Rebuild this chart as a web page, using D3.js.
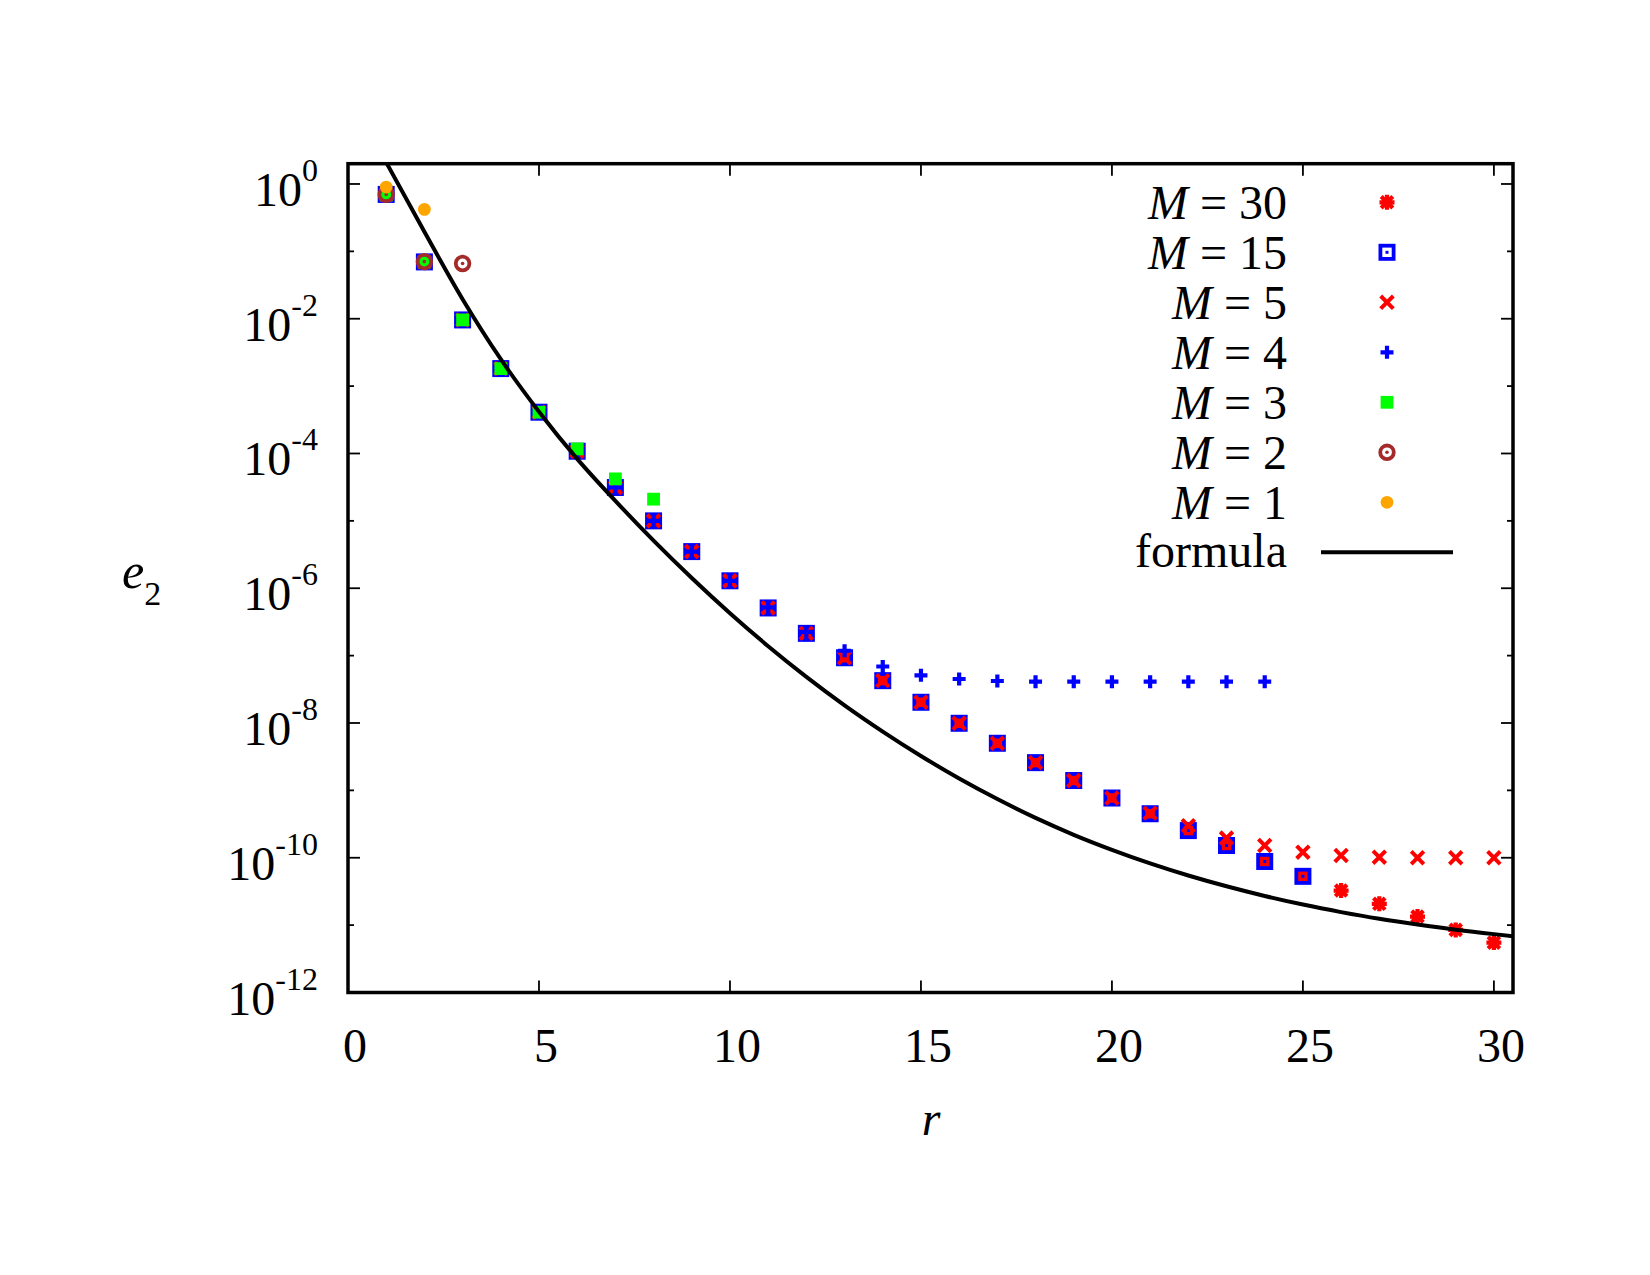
<!DOCTYPE html>
<html>
<head>
<meta charset="utf-8">
<script src="https://cdn.jsdelivr.net/npm/d3@7"></script>
<style>
  html, body { margin: 0; padding: 0; background: #fff; }
  svg text { font-family: "Liberation Serif", "Times New Roman", serif; fill: #000; }
</style>
</head>
<body>
<svg id="chart" width="1650" height="1275"></svg>
<script>
// ---- data ----
const r30 = d3.range(1, 31);
const m30 = [0.70, 0.0697, 0.0096, 1.82e-3, 4.1e-4, 1.08e-4, 3.13e-5, 1.0e-5, 3.5e-6, 1.29e-6,
             5.1e-7, 2.14e-7, 9.3e-8, 4.25e-8, 2.03e-8, 9.9e-9, 5.0e-9, 2.58e-9, 1.40e-9, 7.7e-10,
             4.5e-10, 2.53e-10, 1.52e-10, 8.8e-11, 5.3e-11, 3.26e-11, 2.07e-11, 1.34e-11, 8.5e-12, 5.5e-12];
const r15 = d3.range(1, 26);
const m15 = [0.70, 0.0697, 0.0096, 1.82e-3, 4.1e-4, 1.08e-4, 3.13e-5, 1.0e-5, 3.5e-6, 1.29e-6,
             5.1e-7, 2.14e-7, 9.3e-8, 4.25e-8, 2.03e-8, 9.9e-9, 5.0e-9, 2.58e-9, 1.40e-9, 7.7e-10,
             4.5e-10, 2.53e-10, 1.52e-10, 8.8e-11, 5.3e-11];
const r5 = d3.range(1, 31);
const m5 = [0.70, 0.0697, 0.0096, 1.82e-3, 4.1e-4, 1.08e-4, 3.13e-5, 1.0e-5, 3.5e-6, 1.29e-6,
            5.1e-7, 2.14e-7, 9.3e-8, 4.25e-8, 2.03e-8, 9.9e-9, 5.0e-9, 2.58e-9, 1.40e-9, 7.7e-10,
            4.6e-10, 3.0e-10, 1.96e-10, 1.52e-10, 1.21e-10, 1.08e-10, 1.02e-10, 1.0e-10, 1.0e-10, 1.0e-10];
const r4 = d3.range(1, 25);
const m4 = [0.70, 0.0697, 0.0096, 1.82e-3, 4.1e-4, 1.08e-4, 3.13e-5, 1.0e-5, 3.5e-6, 1.29e-6,
            5.2e-7, 2.25e-7, 1.18e-7, 6.9e-8, 5.1e-8, 4.5e-8, 4.2e-8, 4.1e-8, 4.1e-8, 4.1e-8,
            4.1e-8, 4.1e-8, 4.1e-8, 4.1e-8];
const r3 = d3.range(1, 9);
const m3 = [0.69, 0.0697, 0.0096, 1.82e-3, 4.1e-4, 1.17e-4, 4.2e-5, 2.1e-5];
const r2 = [1, 2, 3];
const m2 = [0.70, 0.0705, 0.066];
const r1 = [1, 2];
const m1 = [0.90, 0.42];
// formula curve, points
const formulaR = [1, 2, 3, 4, 5, 6, 7, 8, 9, 10, 11, 12, 13, 14, 15, 16, 17, 18, 19, 20,
                  21, 22, 23, 24, 25, 26, 27, 28, 29, 30, 30.5];
const formulaV = [2.09, 0.195, 0.0195, 2.51e-3, 4.17e-4, 8.32e-5, 1.98e-5, 5.09e-6, 1.42e-6, 4.26e-7,
                  1.38e-7, 4.84e-8, 1.83e-8, 7.46e-9, 3.24e-9, 1.50e-9, 7.43e-10, 3.90e-10, 2.19e-10, 1.31e-10,
                  8.24e-11, 5.45e-11, 3.77e-11, 2.71e-11, 2.02e-11, 1.56e-11, 1.24e-11, 1.02e-11, 8.55e-12, 7.35e-12, 6.86e-12];
const xTicks = [0, 5, 10, 15, 20, 25, 30];
const yMajorExp = [0, -2, -4, -6, -8, -10, -12];
const yMinorExp = [-1, -3, -5, -7, -9, -11];
const seriesValue = ["30", "15", "5", "4", "3", "2", "1"];

// ---- layout ----
const L = 348, R = 1513, T = 163.7, B = 992.5;
const svg = d3.select("#chart");
const x = d3.scaleLinear().domain([0, 30.5]).range([L, R]);
const y = d3.scaleLog().domain([1e-12, 2]).range([B, T]);

// markers
const markers = {
  star: (g, c) => g.append("path").attr("d", "M-7.5,0H7.5M0,-7.5V7.5M-5.8,-5.8L5.8,5.8M-5.8,5.8L5.8,-5.8")
           .attr("stroke", c).attr("stroke-width", 4.2).attr("fill", "none"),
  osq: (g, c) => { g.append("rect").attr("x", -6.6).attr("y", -6.6).attr("width", 13.2).attr("height", 13.2)
           .attr("stroke", c).attr("stroke-width", 3.8).attr("fill", "none");
           g.append("rect").attr("x", -1.5).attr("y", -1.5).attr("width", 3).attr("height", 3).attr("fill", c); },
  cross: (g, c) => g.append("path").attr("d", "M-6.3,-6.3L6.3,6.3M-6.3,6.3L6.3,-6.3")
           .attr("stroke", c).attr("stroke-width", 4).attr("fill", "none"),
  plus: (g, c) => g.append("path").attr("d", "M-6.5,0H6.5M0,-6.5V6.5")
           .attr("stroke", c).attr("stroke-width", 4.2).attr("fill", "none"),
  fsq: (g, c) => g.append("rect").attr("x", -6.4).attr("y", -6.4).attr("width", 12.8).attr("height", 12.8).attr("fill", c),
  ocirc: (g, c) => { g.append("circle").attr("r", 6.8).attr("stroke", c).attr("stroke-width", 3.8).attr("fill", "none");
           g.append("circle").attr("r", 1.8).attr("fill", c); },
  fcirc: (g, c) => g.append("circle").attr("r", 6.4).attr("fill", c)
};

const series = [
  { r: r30, v: m30, m: "star", c: "#ff0000" },
  { r: r15, v: m15, m: "osq", c: "#0000ff" },
  { r: r5, v: m5, m: "cross", c: "#ff0000" },
  { r: r4, v: m4, m: "plus", c: "#0000ff" },
  { r: r3, v: m3, m: "fsq", c: "#00ff00" },
  { r: r2, v: m2, m: "ocirc", c: "#a52a2a" },
  { r: r1, v: m1, m: "fcirc", c: "#ffa500" }
];

// ticks
const tickG = svg.append("g").attr("stroke", "#000").attr("stroke-width", 1.8);
xTicks.forEach(t => {
  tickG.append("line").attr("x1", x(t)).attr("x2", x(t)).attr("y1", B).attr("y2", B - 12);
  tickG.append("line").attr("x1", x(t)).attr("x2", x(t)).attr("y1", T).attr("y2", T + 12);
});
yMajorExp.forEach(e => {
  const yy = y(Math.pow(10, e));
  tickG.append("line").attr("x1", L).attr("x2", L + 12).attr("y1", yy).attr("y2", yy);
  tickG.append("line").attr("x1", R).attr("x2", R - 12).attr("y1", yy).attr("y2", yy);
});
yMinorExp.forEach(e => {
  const yy = y(Math.pow(10, e));
  tickG.append("line").attr("x1", L).attr("x2", L + 6).attr("y1", yy).attr("y2", yy);
  tickG.append("line").attr("x1", R).attr("x2", R - 6).attr("y1", yy).attr("y2", yy);
});

// tick labels
xTicks.forEach(t => {
  svg.append("text").attr("x", x(t) + 7).attr("y", 1062).attr("text-anchor", "middle")
    .attr("font-size", 48).text(t);
});
yMajorExp.forEach(e => {
  const yy = y(Math.pow(10, e));
  const tx = svg.append("text").attr("x", 318).attr("y", yy + 22).attr("text-anchor", "end").attr("font-size", 48);
  tx.append("tspan").text("10");
  tx.append("tspan").attr("font-size", 32).attr("dy", -25).text(e === 0 ? "0" : String(e));
});

// axis titles
const yt = svg.append("text").attr("x", 122).attr("y", 588).attr("font-size", 50);
yt.append("tspan").attr("font-style", "italic").text("e");
yt.append("tspan").attr("font-size", 34).attr("dy", 17).text("2");
svg.append("text").attr("x", 931).attr("y", 1135).attr("text-anchor", "middle")
  .attr("font-size", 48).attr("font-style", "italic").text("r");

// clip
svg.append("clipPath").attr("id", "clip").append("rect")
  .attr("x", L).attr("y", T).attr("width", R - L).attr("height", B - T);

// points
series.forEach(s => {
  const g = svg.append("g");
  s.r.forEach((rv, i) => {
    const pg = g.append("g").attr("transform", `translate(${x(rv)},${y(s.v[i])})`);
    markers[s.m](pg, s.c);
  });
});

// formula line
const fdata = formulaR.map((rv, i) => [rv, formulaV[i]]);
svg.append("path").datum(fdata).attr("clip-path", "url(#clip)")
  .attr("d", d3.line().x(d => x(d[0])).y(d => y(d[1])).curve(d3.curveMonotoneX))
  .attr("fill", "none").attr("stroke", "#000").attr("stroke-width", 4);

// legend
const legX = 1287, legM = 1387, legY0 = 202.3, legDy = 50;
series.forEach((s, i) => {
  const yy = legY0 + i * legDy;
  const tx = svg.append("text").attr("x", legX).attr("y", yy + 17).attr("text-anchor", "end").attr("font-size", 48);
  tx.append("tspan").attr("font-style", "italic").text("M");
  tx.append("tspan").text(" = " + seriesValue[i]);
  const pg = svg.append("g").attr("transform", `translate(${legM},${yy})`);
  markers[s.m](pg, s.c);
});
{
  const yy = legY0 + 7 * legDy;
  svg.append("text").attr("x", legX).attr("y", yy + 15).attr("text-anchor", "end").attr("font-size", 48).text("formula");
  svg.append("line").attr("x1", 1321).attr("x2", 1453).attr("y1", yy).attr("y2", yy)
    .attr("stroke", "#000").attr("stroke-width", 4);
}

// frame
svg.append("rect").attr("x", L).attr("y", T).attr("width", R - L).attr("height", B - T)
  .attr("fill", "none").attr("stroke", "#000").attr("stroke-width", 3.5);
</script>
</body>
</html>
